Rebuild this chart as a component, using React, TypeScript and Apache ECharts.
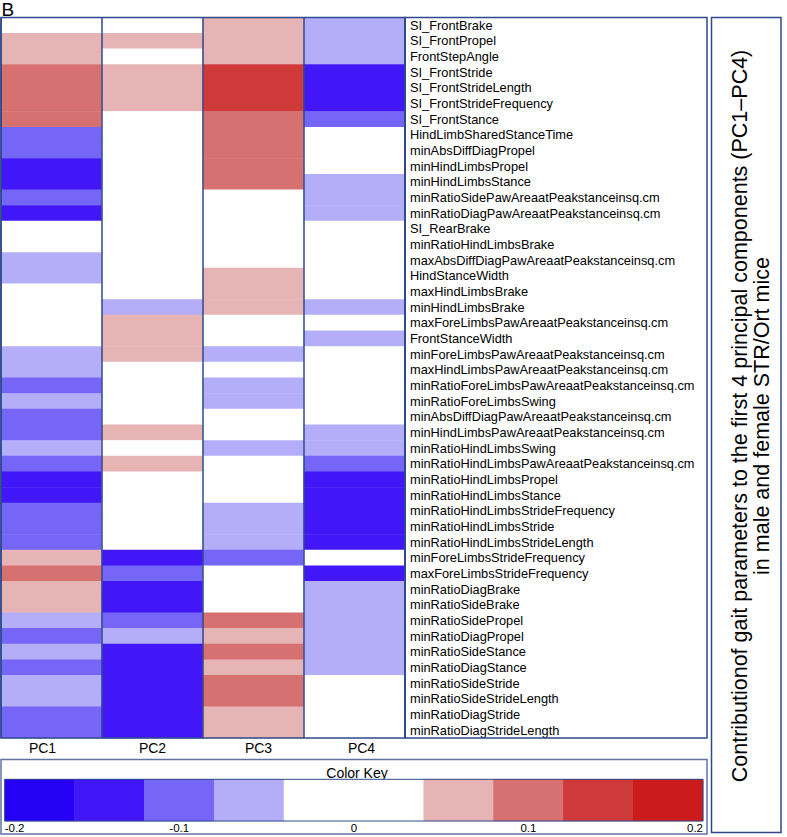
import React, { useEffect, useRef } from 'react';
import * as echarts from 'echarts';

const COMPONENTS = ['PC1', 'PC2', 'PC3', 'PC4'];

const PARAMETERS = [
  'SI_FrontBrake',
  'SI_FrontPropel',
  'FrontStepAngle',
  'SI_FrontStride',
  'SI_FrontStrideLength',
  'SI_FrontStrideFrequency',
  'SI_FrontStance',
  'HindLimbSharedStanceTime',
  'minAbsDiffDiagPropel',
  'minHindLimbsPropel',
  'minHindLimbsStance',
  'minRatioSidePawAreaatPeakstanceinsq.cm',
  'minRatioDiagPawAreaatPeakstanceinsq.cm',
  'SI_RearBrake',
  'minRatioHindLimbsBrake',
  'maxAbsDiffDiagPawAreaatPeakstanceinsq.cm',
  'HindStanceWidth',
  'maxHindLimbsBrake',
  'minHindLimbsBrake',
  'maxForeLimbsPawAreaatPeakstanceinsq.cm',
  'FrontStanceWidth',
  'minForeLimbsPawAreaatPeakstanceinsq.cm',
  'maxHindLimbsPawAreaatPeakstanceinsq.cm',
  'minRatioForeLimbsPawAreaatPeakstanceinsq.cm',
  'minRatioForeLimbsSwing',
  'minAbsDiffDiagPawAreaatPeakstanceinsq.cm',
  'minHindLimbsPawAreaatPeakstanceinsq.cm',
  'minRatioHindLimbsSwing',
  'minRatioHindLimbsPawAreaatPeakstanceinsq.cm',
  'minRatioHindLimbsPropel',
  'minRatioHindLimbsStance',
  'minRatioHindLimbsStrideFrequency',
  'minRatioHindLimbsStride',
  'minRatioHindLimbsStrideLength',
  'minForeLimbsStrideFrequency',
  'maxForeLimbsStrideFrequency',
  'minRatioDiagBrake',
  'minRatioSideBrake',
  'minRatioSidePropel',
  'minRatioDiagPropel',
  'minRatioSideStance',
  'minRatioDiagStance',
  'minRatioSideStride',
  'minRatioSideStrideLength',
  'minRatioDiagStride',
  'minRatioDiagStrideLength',
];

const PC1 = [
  0, 0.06, 0.06, 0.1, 0.1, 0.1, 0.1, -0.1, -0.1, -0.14,
  -0.14, -0.1, -0.14, 0, 0, -0.06, -0.06, 0, 0, 0,
  0, -0.06, -0.06, -0.1, -0.06, -0.1, -0.1, -0.06, -0.1, -0.14,
  -0.14, -0.1, -0.1, -0.1, 0.06, 0.1, 0.06, 0.06, -0.06, -0.1,
  -0.06, -0.1, -0.06, -0.06, -0.1, -0.1,
];

const PC2 = [
  0, 0.06, 0, 0.06, 0.06, 0.06, 0, 0, 0, 0,
  0, 0, 0, 0, 0, 0, 0, 0, -0.06, 0.06,
  0.06, 0.06, 0, 0, 0, 0, 0.06, 0, 0.06, 0,
  0, 0, 0, 0, -0.14, -0.1, -0.14, -0.14, -0.1, -0.06,
  -0.14, -0.14, -0.14, -0.14, -0.14, -0.14,
];

const PC3 = [
  0.06, 0.06, 0.06, 0.14, 0.14, 0.14, 0.1, 0.1, 0.1, 0.1,
  0.1, 0, 0, 0, 0, 0, 0.06, 0.06, 0.06, 0,
  0, -0.06, 0, -0.06, -0.06, 0, 0, -0.06, 0, 0,
  0, -0.06, -0.06, -0.06, -0.1, 0, 0, 0, 0.1, 0.06,
  0.1, 0.06, 0.1, 0.1, 0.06, 0.06,
];

const PC4 = [
  -0.06, -0.06, -0.06, -0.14, -0.14, -0.14, -0.1, 0, 0, 0,
  -0.06, -0.06, -0.06, 0, 0, 0, 0, 0, -0.06, 0,
  -0.06, 0, 0, 0, 0, 0, -0.06, -0.06, -0.1, -0.14,
  -0.14, -0.14, -0.14, -0.14, 0, -0.14, -0.06, -0.06, -0.06, -0.06,
  -0.06, -0.06, 0, 0, 0, 0,
];

const KEY_BREAKS = [-0.2, -0.16, -0.12, -0.08, -0.04, 0, 0.04, 0.08, 0.12, 0.16, 0.2];
const KEY_COLORS = [
  '#2600F5', '#4217F7', '#7566F8', '#B4AEF8', '#FFFFFF',
  '#FFFFFF', '#E6B4B4', '#D77070', '#CE3A3A', '#CB1B1B',
];

const TITLE_LINES = [
  'Contributionof gait parameters to the first 4 principal components (PC1\u2013PC4)',
  'in male and female STR/Ort mice',
];

const FONT = 'Arial, "Liberation Sans", Helvetica, sans-serif';
const NAVY = '#2E4A8A';

// small horizontal nudges of the PC labels (left, right padding)
const PC_LABEL_PAD = [[0, 18], [0, 0], [10, 0], [14, 0]];

export default function App() {
  const ref = useRef<HTMLDivElement>(null);

  useEffect(() => {
    if (!ref.current) return;
    const chart = echarts.init(ref.current, null, { renderer: 'svg' });

    const cols = [PC1, PC2, PC3, PC4];
    const data: number[][] = [];
    cols.forEach((col, x) => col.forEach((v, y) => data.push([x, y, v])));

    const keyCats = KEY_COLORS.map((_, i) => String(i));
    const keyData = KEY_COLORS.map((_, i) => [i, 0, (KEY_BREAKS[i] + KEY_BREAKS[i + 1]) / 2]);

    const pieces = KEY_COLORS.map((c, i) =>
      i === KEY_COLORS.length - 1
        ? { gte: KEY_BREAKS[i], lte: KEY_BREAKS[i + 1], color: c }
        : { gte: KEY_BREAKS[i], lt: KEY_BREAKS[i + 1], color: c }
    );

    const rich: Record<string, any> = {};
    PC_LABEL_PAD.forEach((p, i) => {
      rich['p' + i] = {
        fontSize: 14,
        fontFamily: FONT,
        color: '#000',
        padding: [0, p[1], 0, p[0]],
      };
    });

    chart.setOption({
      animation: false,
      backgroundColor: '#ffffff',
      textStyle: { fontFamily: FONT },
      visualMap: {
        type: 'piecewise',
        show: false,
        dimension: 2,
        seriesIndex: [0, 1],
        pieces,
      },
      grid: [
        { left: 1, top: 17.5, width: 404, height: 720.5, show: false },
        { left: 4.7, top: 779.3, width: 698.3, height: 41.7, show: false },
      ],
      xAxis: [
        {
          type: 'category',
          gridIndex: 0,
          data: COMPONENTS,
          position: 'bottom',
          z: 10,
          axisLine: { show: false },
          axisTick: { show: false },
          axisLabel: {
            fontSize: 14,
            color: '#000',
            margin: 3,
            fontFamily: FONT,
            formatter: (v: string, i: number) => `{p${i}|${v}}`,
            rich,
          },
          splitLine: { show: true, interval: 0, lineStyle: { color: NAVY, width: 1.5 } },
        },
        {
          type: 'category',
          gridIndex: 1,
          data: keyCats,
          show: false,
        },
        {
          type: 'value',
          gridIndex: 1,
          min: -0.2,
          max: 0.2,
          interval: 0.1,
          position: 'bottom',
          axisLine: { show: false },
          axisTick: { show: false },
          splitLine: { show: false },
          axisLabel: {
            fontSize: 11.5,
            color: '#000',
            margin: 1,
            fontFamily: FONT,
            alignMinLabel: 'left',
            alignMaxLabel: 'right',
          },
        },
      ],
      yAxis: [
        {
          type: 'category',
          gridIndex: 0,
          data: PARAMETERS,
          inverse: true,
          position: 'right',
          axisLine: { show: false },
          axisTick: { show: false },
          splitLine: { show: false },
          axisLabel: { interval: 0, fontSize: 12.8, color: '#000', margin: 5, fontFamily: FONT },
        },
        {
          type: 'category',
          gridIndex: 1,
          data: [''],
          show: false,
        },
      ],
      series: [
        {
          type: 'heatmap',
          xAxisIndex: 0,
          yAxisIndex: 0,
          data,
          itemStyle: { borderWidth: 0 },
          emphasis: { disabled: true },
        },
        {
          type: 'heatmap',
          xAxisIndex: 1,
          yAxisIndex: 1,
          data: keyData,
          itemStyle: { borderWidth: 0 },
          emphasis: { disabled: true },
        },
      ],
      graphic: [
        {
          type: 'text',
          x: 1.5,
          y: 9.5,
          style: {
            text: 'B',
            fontSize: 19,
            fontFamily: FONT,
            fill: '#000',
            textAlign: 'left',
            textVerticalAlign: 'middle',
          },
        },
        {
          type: 'rect',
          z: 100,
          shape: { x: 1, y: 17.5, width: 404, height: 720.5 },
          style: { fill: 'none', stroke: NAVY, lineWidth: 1.5 },
        },
        {
          type: 'rect',
          z: 100,
          shape: { x: 405, y: 17.5, width: 302, height: 720.5 },
          style: { fill: 'none', stroke: NAVY, lineWidth: 1.5 },
        },
        {
          type: 'rect',
          z: 100,
          shape: { x: 1, y: 759.5, width: 706, height: 74.5 },
          style: { fill: 'none', stroke: '#5F73A3', lineWidth: 1.5 },
        },
        {
          type: 'rect',
          z: 100,
          shape: { x: 4.7, y: 779.3, width: 698.3, height: 41.7 },
          style: { fill: 'none', stroke: NAVY, lineWidth: 1 },
        },
        {
          type: 'text',
          x: 357,
          y: 772.5,
          style: {
            text: 'Color Key',
            fontSize: 14,
            fontFamily: FONT,
            fill: '#000',
            textAlign: 'center',
            textVerticalAlign: 'middle',
          },
        },
        {
          type: 'rect',
          z: 100,
          shape: { x: 711.5, y: 17.5, width: 69.5, height: 815 },
          style: { fill: 'none', stroke: NAVY, lineWidth: 1.5 },
        },
        {
          type: 'text',
          x: 751,
          y: 416,
          rotation: Math.PI / 2,
          style: {
            text: TITLE_LINES.join('\n'),
            fontSize: 21.5,
            fontFamily: FONT,
            lineHeight: 21.5,
            fill: '#000',
            textAlign: 'center',
            textVerticalAlign: 'middle',
          },
        },
      ],
    });

    return () => chart.dispose();
  }, []);

  return (
    <div
      ref={ref}
      style={{ position: 'absolute', left: 0, top: 0, width: 787, height: 837 }}
    />
  );
}
